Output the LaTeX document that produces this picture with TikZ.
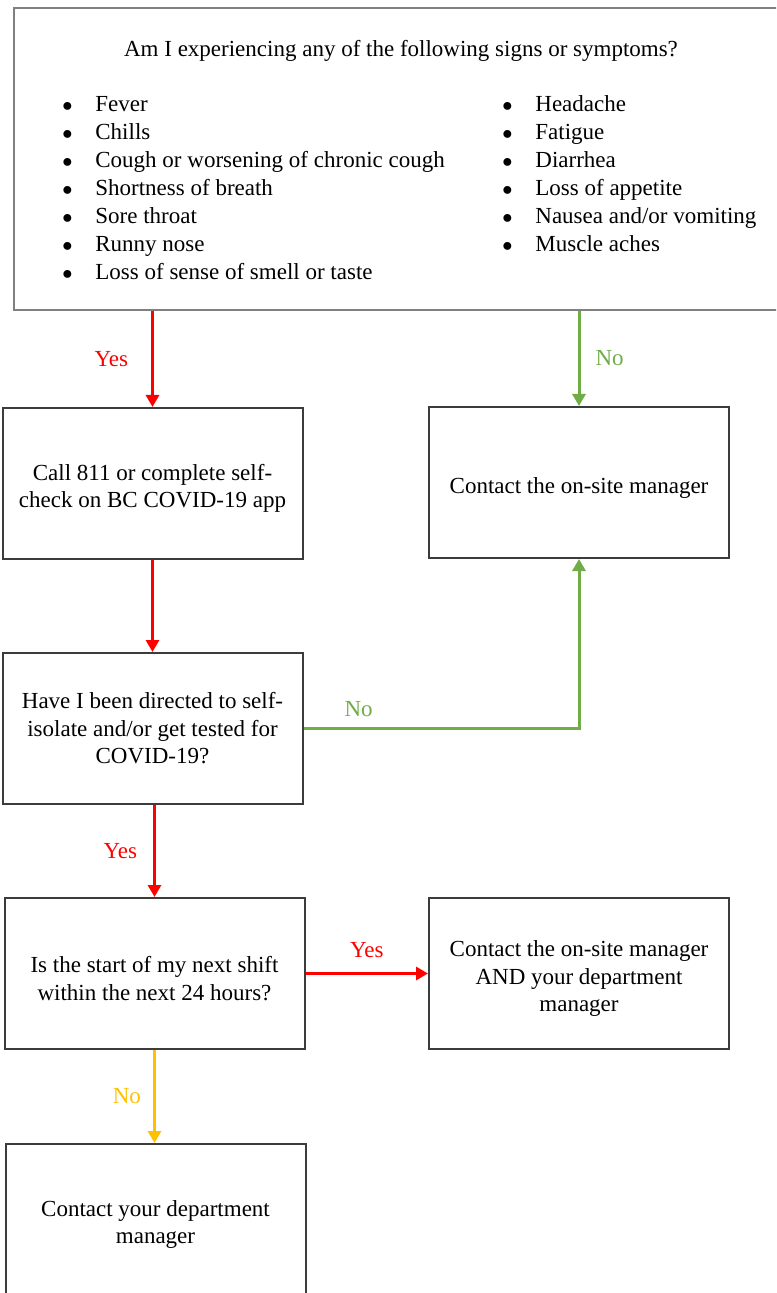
\documentclass[tikz,border=0pt]{standalone}
\usepackage{fontspec}
\setmainfont{Liberation Serif}
\usetikzlibrary{arrows.meta}
\definecolor{yesred}{RGB}{255,0,0}
\definecolor{nogreen}{RGB}{112,173,71}
\definecolor{nogold}{RGB}{255,192,0}
\definecolor{boxline}{RGB}{60,60,60}
\newcommand{\topstrut}{\rule{0pt}{13pt}}
\begin{document}
\begin{tikzpicture}[x=0.5pt, y=-0.5pt,
  font=\fontsize{11.5}{13.75}\selectfont,
  box/.style={draw=boxline, line width=1pt, minimum width=150pt, minimum height=75.5pt, align=center},
  flow/.style={line width=1.5pt, -{Triangle[length=6pt,width=6.5pt]}},
  lbl/.style={inner sep=0pt}]
\path[use as bounding box, clip] (0,0) rectangle (776,1293);
% symptoms
\node[draw=gray, line width=1pt, minimum width=383pt, minimum height=151pt] (sym) at (397,159){};
\node[anchor=base, inner sep=0pt] (symq) at (401,57){Am I experiencing any of the following signs or symptoms?};
\foreach \s [count=\i] in {Fever, Chills, Cough or worsening of chronic cough, Shortness of breath, Sore throat, Runny nose, Loss of sense of smell or taste}
  \node[anchor=base west, inner sep=0pt] (symL\i) at (62,112+28*\i-28){\makebox[16.5pt][l]{\scalebox{0.85}{$\bullet$}}\s};
\foreach \s [count=\i] in {Headache, Fatigue, Diarrhea, Loss of appetite, Nausea and/or vomiting, Muscle aches}
  \node[anchor=base west, inner sep=0pt] (symR\i) at (502,112+28*\i-28){\makebox[16.5pt][l]{\scalebox{0.85}{$\bullet$}}\s};
% boxes
\node[box] (call) at (152.5,483.5){\topstrut Call 811 or complete self-\\check on BC COVID-19 app};
\node[box] (onsite) at (579,482.5){\topstrut Contact the on-site manager};
\node[box] (isol) at (152.5,728.5){Have I been directed to self-\\isolate and/or get tested for\\COVID-19?};
\node[box] (shift) at (154.5,973.5){\topstrut Is the start of my next shift\\within the next 24 hours?};
\node[box] (both) at (579,973.5){\topstrut Contact the on-site manager\\AND your department\\manager};
\node[box] (dept) at (155.5,1219.5){\topstrut Contact your department\\manager};
% arrows
\draw[flow, yesred] (sym.south -| call.north) -- node[lbl, left=11.5pt] (yes1) {Yes} (call.north);
\draw[flow, nogreen] (sym.south -| onsite.north) -- node[lbl, right=7.5pt] (no1) {No} (onsite.north);
\draw[flow, yesred] (call.south) -- (isol.north);
\draw[flow, nogreen] (isol.east) -- node[lbl, pos=0.2, above=5pt] (no2) {No} (isol.east -| onsite.south) -- (onsite.south);
\draw[flow, yesred] (isol.south -| shift.north) -- node[lbl, left=8pt] (yes2) {Yes} (shift.north);
\draw[flow, yesred] (shift.east) -- node[lbl, above=7pt] (yes3) {Yes} (both.west);
\draw[flow, nogold] (shift.south) -- node[lbl, left=6pt] (no3) {No} (shift.south |- dept.north);
\end{tikzpicture}
\end{document}
